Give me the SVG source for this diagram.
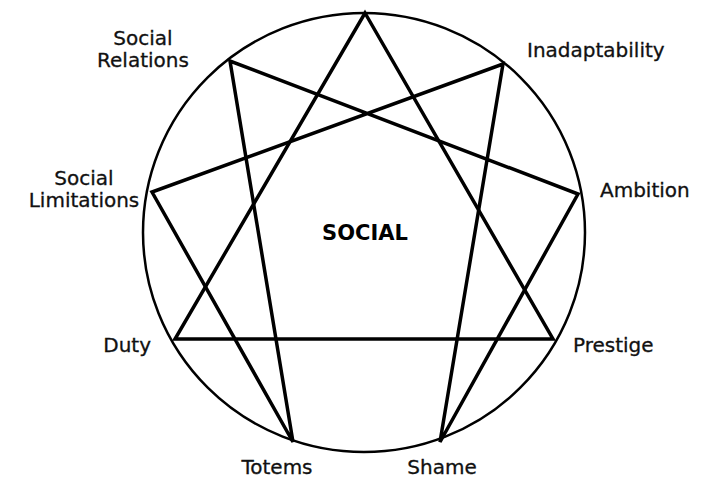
<svg xmlns="http://www.w3.org/2000/svg" width="710" height="479" viewBox="0 0 710 479">
<style>
.lbl{font-family:"DejaVu Sans","Liberation Sans",sans-serif;font-size:20px;fill:#111;stroke:#111;stroke-width:0.3}
.ttl{font-family:"DejaVu Sans","Liberation Sans",sans-serif;font-size:21px;font-weight:bold;fill:#000}
.ln{stroke:#000;stroke-width:3.5;fill:none;stroke-linejoin:miter}
</style>
<rect width="710" height="479" fill="#fff"/>
<g id="circle"><ellipse cx="364" cy="232.5" rx="221" ry="219.5" fill="none" stroke="#000" stroke-width="2.5"/></g>
<g id="connectors">
<polygon class="ln" points="365,13 553,339 175,339"/>
<polygon class="ln" points="503,64 440,442 578,194 230,61 293,442 152,192"/>
</g>
<g id="n9"><text class="ttl" x="365" y="240" text-anchor="middle">SOCIAL</text></g>
<g id="n1"><text class="lbl" x="527" y="57">Inadaptability</text></g>
<g id="n2"><text class="lbl" x="600" y="197">Ambition</text></g>
<g id="n3"><text class="lbl" x="573" y="352">Prestige</text></g>
<g id="n4"><text class="lbl" x="442" y="474" text-anchor="middle">Shame</text></g>
<g id="n5"><text class="lbl" x="277" y="474" text-anchor="middle">Totems</text></g>
<g id="n6"><text class="lbl" x="151" y="352" text-anchor="end">Duty</text></g>
<g id="n7"><text class="lbl" x="84" y="185" text-anchor="middle">Social</text><text class="lbl" x="84" y="207" text-anchor="middle">Limitations</text></g>
<g id="n8"><text class="lbl" x="143" y="45" text-anchor="middle">Social</text><text class="lbl" x="143" y="67" text-anchor="middle">Relations</text></g>
</svg>
